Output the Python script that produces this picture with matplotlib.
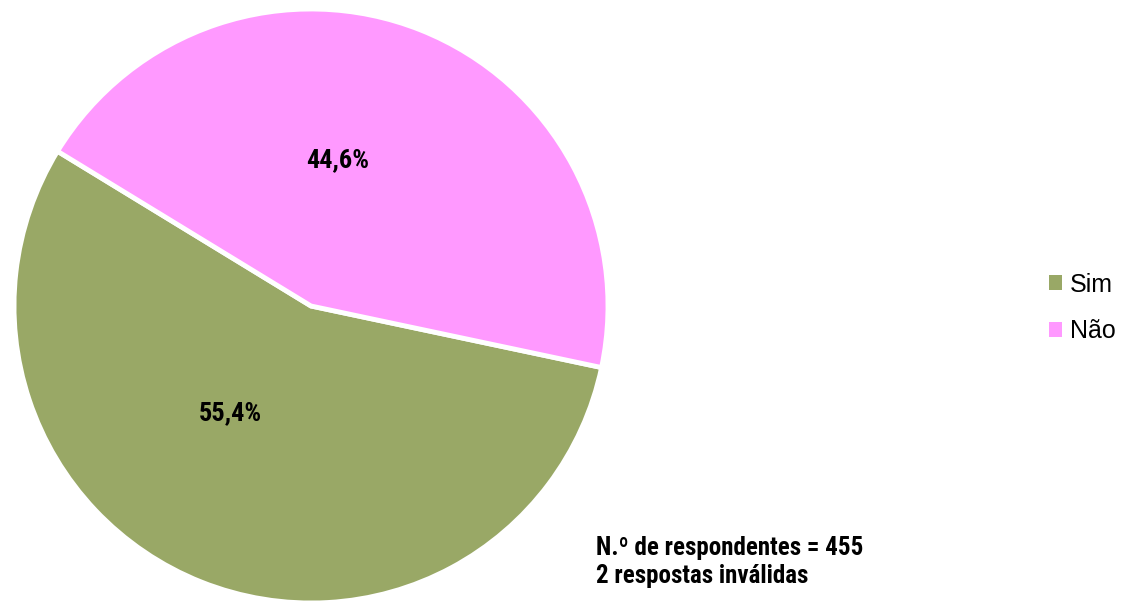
import matplotlib.pyplot as plt
import matplotlib.patches as patches

# data
categorias = ["Sim", "Não"]
percentagens = [55.4, 44.6]
cores = ["#99A866", "#FF99FF"]
nota = "N.º de respondentes = 455\n2 respostas inválidas"

narrow = ["Roboto Condensed", "DejaVu Sans"]

fig = plt.figure(figsize=(11.3, 6.04), dpi=100)
# pie axes: centre (311,306) px, radius ~297 px
r_px = 297
lim = 1.03
ax = fig.add_axes([(311 - r_px * lim) / 1130, (604 - 306 - r_px * lim) / 604,
                   2 * r_px * lim / 1130, 2 * r_px * lim / 604])

wedges, texts, autotexts = ax.pie(
    percentagens, colors=cores, startangle=148.6, counterclock=True,
    autopct=lambda p: ("%.1f%%" % p).replace(".", ","),
    pctdistance=0.5,
    wedgeprops=dict(edgecolor="white", linewidth=3.5),
    textprops=dict(fontsize=19, fontweight="bold", family=narrow, color="black"))
# excel-style label placement
label_pos = [(-0.27, -0.36), (0.09, 0.49)]
for t, pos in zip(autotexts, label_pos):
    t.set_position(pos)
ax.set_xlim(-lim, lim)
ax.set_ylim(-lim, lim)
ax.set_aspect("equal")
ax.axis("off")

handles = [patches.Patch(facecolor=c, edgecolor="none") for c in cores]
fig.legend(handles, categorias, loc="center left", bbox_to_anchor=(1031 / 1130, 1 - 308 / 604),
           frameon=False, handlelength=0.55, handleheight=0.55,
           handletextpad=0.3, labelspacing=0.9, borderpad=0.2,
           prop=dict(family=["Liberation Sans"], size=18))

fig.text(596 / 1130, 1 - 562 / 604, nota, fontsize=18, fontweight="bold",
         family=narrow, ha="left", va="center", linespacing=1.25)

fig.savefig("out.png", dpi=100)
